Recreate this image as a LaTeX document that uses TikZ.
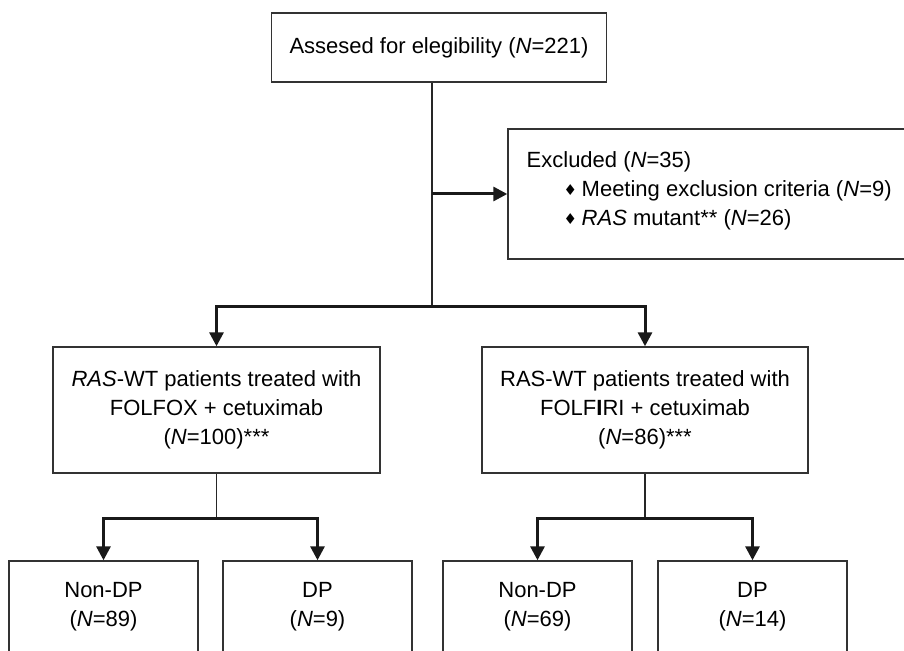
\documentclass[tikz,border=0pt]{standalone}
\usepackage{fontspec}
\setmainfont{Liberation Sans}
\newfontfamily\symfont{DejaVu Sans}
\usetikzlibrary{arrows.meta}
\newcommand{\bul}{\makebox[9pt][l]{\raisebox{0.5pt}{\symfont\fontsize{7.5}{7.5}\selectfont ♦}}}
\newcommand{\NN}{\textit{N}}

\begin{document}
\begin{tikzpicture}[x=0.5pt,y=-0.5pt,
  txt/.style={font=\fontsize{11}{14.5}\selectfont},
  box/.style={txt,draw=black!80,line width=0.7pt,inner sep=0pt,align=center},
  thinline/.style={draw=black!85,line width=0.7pt},
  feed/.style={draw=black!90,line width=1.5pt},
  arr/.style={feed,-{Triangle[length=7pt,width=7pt]}}]
  % pixel coordinates of the 904x651 frame, y pointing down
  \useasboundingbox (0,0) rectangle (904,651);
  \node[box,minimum width=167.5pt,minimum height=34.5pt] (assess) at (439,47.5)
    {Assesed for elegibility (\NN=221)};
  \node[box,minimum width=201pt,minimum height=65pt] (excl) at (709,194) {};
  \node[txt,anchor=north west,align=left,inner sep=0pt] (excltxt)
    at ([xshift=9.5pt,yshift=-11.5pt]excl.north west)
    {Excluded (\NN=35)\\
     \hspace*{18.5pt}\bul Meeting exclusion criteria (\NN=9)\\
     \hspace*{18.5pt}\bul \textit{RAS} mutant** (\NN=26)};
  \coordinate (trunk) at (432,307);
  % treatment arms
  \node[box,minimum width=163.5pt,minimum height=63pt] (fox) at (216.5,410)
    {\textit{RAS}-WT patients treated with\\FOLFOX + cetuximab\\(\NN=100)***};
  \node[box,minimum width=163pt,minimum height=63pt] (fir) at (645,410)
    {RAS-WT patients treated with\\FOLF\textbf{I}RI + cetuximab\\(\NN=86)***};
  % outcome boxes, cut by the lower edge
  \node[box,minimum width=94.5pt,minimum height=46pt] (foxnon) at (103.5,607) {Non-DP\\(\NN=89)};
  \node[box,minimum width=94.5pt,minimum height=46pt] (foxdp) at (317.5,607) {DP\\(\NN=9)};
  \node[box,minimum width=94.5pt,minimum height=46pt] (firnon) at (537.5,607) {Non-DP\\(\NN=69)};
  \node[box,minimum width=94.5pt,minimum height=46pt] (firdp) at (752.5,607) {DP\\(\NN=14)};
  \coordinate (foxjoin) at ([yshift=-22.5pt]fox.south);
  \coordinate (firjoin) at ([yshift=-22.5pt]fir.south);
  % connectors
  \draw[thinline] (assess.south -| trunk) -- (trunk);
  \draw[arr] (trunk |- excl.west) -- (excl.west);
  \draw[arr] (trunk) -| (fox.north);
  \draw[arr] (trunk) -| (fir.north);
  \draw[thinline] (fox.south) -- (foxjoin);
  \draw[thinline] (fir.south) -- (firjoin);
  \draw[arr] (foxjoin) -| (foxnon.north);
  \draw[arr] (foxjoin) -| (foxdp.north);
  \draw[arr] (firjoin) -| (firnon.north);
  \draw[arr] (firjoin) -| (firdp.north);
\end{tikzpicture}
\end{document}
